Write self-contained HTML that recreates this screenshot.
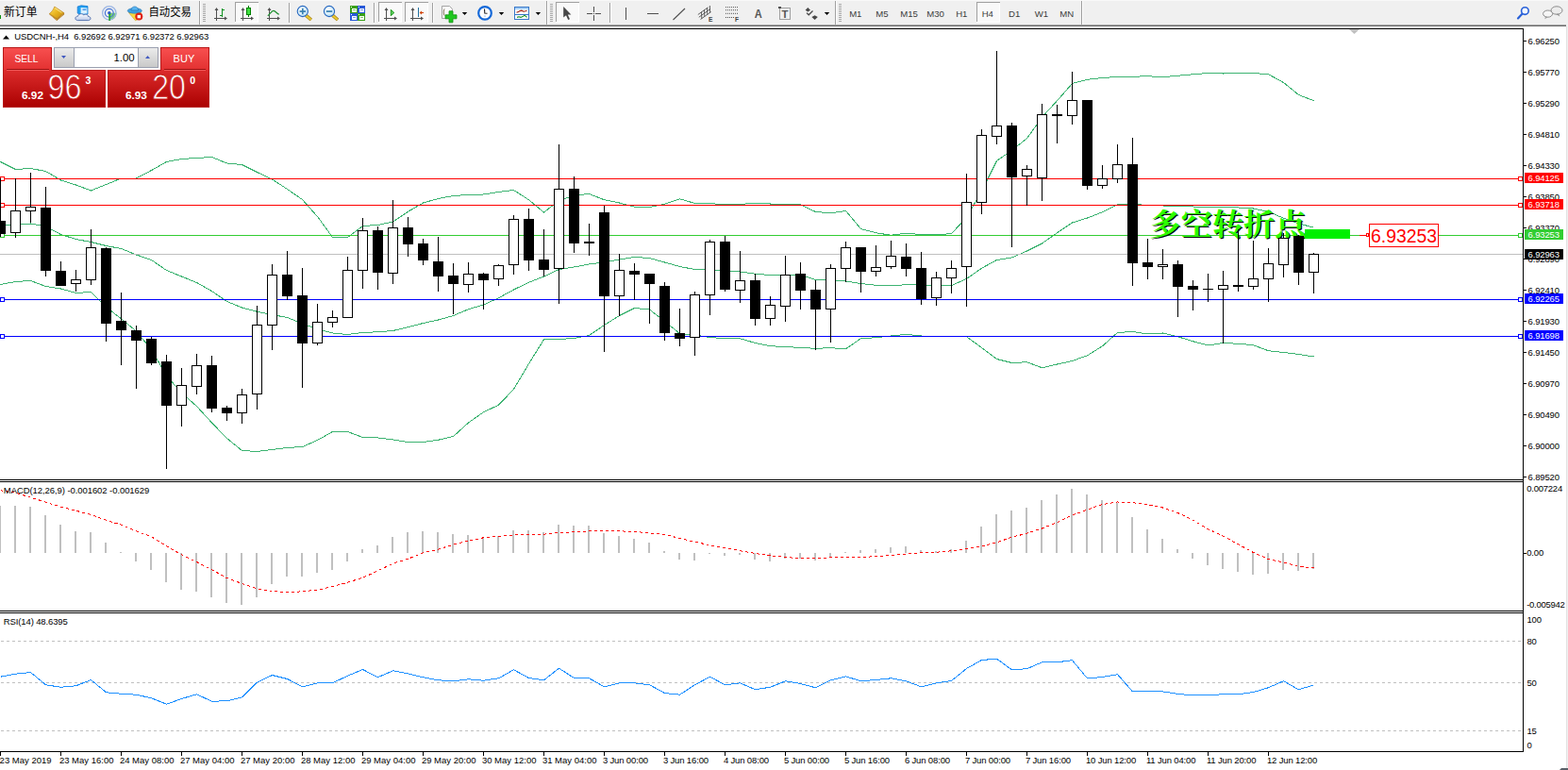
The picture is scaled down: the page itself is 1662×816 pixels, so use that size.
<!DOCTYPE html>
<html><head><meta charset="utf-8"><title>chart</title>
<style>html,body{margin:0;padding:0;background:#fff;}body{width:1662px;height:816px;overflow:hidden;position:relative;font-family:'Liberation Sans', sans-serif;}</style>
</head><body>
<svg width="1662" height="816" viewBox="0 0 1662 816" font-family="'Liberation Sans', sans-serif" style="position:absolute;left:0;top:0;display:block">
<rect x="0" y="0" width="1662" height="816" fill="#fff" />
<g shape-rendering="crispEdges">
<rect x="1661" y="28" width="1" height="788" fill="#f0f0f0" />
<rect x="1660" y="28" width="1" height="788" fill="#e3e3e3" />
</g>
<polyline points="0.5,171.5 16.5,179.5 32.5,178.5 48.5,181.5 64.5,191 80.5,196 96.5,202 112.5,195.5 128.5,189 144.5,189 160.5,180.5 176.5,171.5 192.5,168.5 208.5,167.5 224.5,166.5 240.5,173 256.5,174.5 272.5,182.5 288.5,190 304.5,200.5 320.5,211.5 336.5,229.5 352.5,251.5 368.5,251.5 384.5,239.5 400.5,238.5 416.5,235 432.5,224.25 448.5,215 464.5,210.5 480.5,207.5 496.5,206.5 512.5,206 528.5,203.5 544.5,201.5 560.5,211.75 576.5,225 592.5,212.5 608.5,207 624.5,205.5 640.5,211.75 656.5,215 672.5,219.25 688.5,219.5 704.5,216.25 720.5,210.75 736.5,215.5 752.5,215.75 768.5,216.5 784.5,216.25 800.5,215.5 816.5,216 832.5,216 848.5,216.75 864.5,224.5 880.5,225.75 896.5,223.5 912.5,242.5 928.5,246.75 944.5,249.25 960.5,247.25 976.5,248.5 992.5,249 1008.5,247.5 1024.5,230.5 1040.5,202.5 1056.5,170.5 1072.5,159.25 1088.5,146.75 1104.5,124.25 1120.5,106.75 1136.5,88.5 1152.5,84.25 1168.5,82.5 1184.5,81.5 1200.5,81.25 1216.5,80.75 1232.5,81.75 1248.5,80.25 1264.5,78.75 1280.5,77.5 1296.5,78 1312.5,77.5 1328.5,77.5 1344.5,78.75 1360.5,87.5 1376.5,100.5 1392.5,106.75" fill="none" stroke="#3cb371" stroke-width="1" shape-rendering="crispEdges" />
<polyline points="0.5,238 16.5,238.5 32.5,237 48.5,240 64.5,248.5 80.5,253.5 96.5,256.5 112.5,260.5 128.5,263.5 144.5,270 160.5,275.5 176.5,286.5 192.5,293 208.5,299.5 224.5,308.5 240.5,319.5 256.5,326 272.5,330.25 288.5,333.5 304.5,336.5 320.5,343 336.5,348.5 352.5,353 368.5,354.5 384.5,352.5 400.5,351.75 416.5,350.5 432.5,346.75 448.5,342.5 464.5,339 480.5,334.5 496.5,327.75 512.5,323 528.5,315.75 544.5,307 560.5,299.25 576.5,293 592.5,285.5 608.5,283 624.5,280 640.5,278 656.5,275 672.5,272.5 688.5,273.5 704.5,278 720.5,282.5 736.5,285.5 752.5,286.25 768.5,287 784.5,288 800.5,290.25 816.5,291.5 832.5,291 848.5,291 864.5,296.5 880.5,297 896.5,298 912.5,300.5 928.5,302.25 944.5,302.75 960.5,301.75 976.5,301.75 992.5,302.5 1008.5,302.5 1024.5,295.5 1040.5,284.25 1056.5,275.5 1072.5,273 1088.5,266 1104.5,258 1120.5,246.75 1136.5,236 1152.5,231 1168.5,224.75 1184.5,216.75 1200.5,216.25 1216.5,217.5 1232.5,218 1248.5,218.5 1264.5,219 1280.5,219.75 1296.5,219.75 1312.5,220 1328.5,221 1344.5,224.25 1360.5,231.25 1376.5,236.75 1392.5,241.25" fill="none" stroke="#3cb371" stroke-width="1" shape-rendering="crispEdges" />
<polyline points="0.5,301.5 16.5,298.5 32.5,297.5 48.5,303.5 64.5,306 80.5,310.5 96.5,309.5 112.5,325.5 128.5,337.75 144.5,351 160.5,370.5 176.5,398 192.5,416.5 208.5,430.5 224.5,448 240.5,464.5 256.5,477.5 272.5,478.5 288.5,476.5 304.5,474.5 320.5,473.5 336.5,466.5 352.5,457.5 368.5,457.5 384.5,463.5 400.5,464 416.5,466 432.5,468.5 448.5,468.5 464.5,466.25 480.5,462.5 496.5,448 512.5,436.75 528.5,429.25 544.5,412.5 560.5,385.5 576.5,359.75 592.5,359.5 608.5,358.5 624.5,355.5 640.5,344.5 656.5,334.5 672.5,326.5 688.5,328 704.5,340.5 720.5,353.5 736.5,355 752.5,357.5 768.5,358.75 784.5,358.75 800.5,363.5 816.5,366.75 832.5,367.5 848.5,368.5 864.5,369.25 880.5,368.75 896.5,369.75 912.5,358.75 928.5,357.75 944.5,356 960.5,354.25 976.5,356 992.5,356.75 1008.5,356.75 1024.5,356.75 1040.5,368.5 1056.5,380.5 1072.5,384.5 1088.5,383.75 1104.5,389.75 1120.5,386 1136.5,382.5 1152.5,376.75 1168.5,366.75 1184.5,352.5 1200.5,351.5 1216.5,354 1232.5,353 1248.5,356.75 1264.5,361.75 1280.5,366 1296.5,363.5 1312.5,364.25 1328.5,365.75 1344.5,371.75 1360.5,373.5 1376.5,375.5 1392.5,378" fill="none" stroke="#3cb371" stroke-width="1" shape-rendering="crispEdges" />
<g shape-rendering="crispEdges">
<rect x="0" y="269" width="1614" height="1" fill="#c0c0c0" />
<rect x="0" y="189" width="1614" height="1" fill="#ff0000" />
<rect x="0" y="217" width="1614" height="1" fill="#ff0000" />
<rect x="0" y="249" width="1614" height="1" fill="#32cd32" />
<rect x="0" y="317" width="1614" height="1" fill="#0000ff" />
<rect x="0" y="356" width="1614" height="1" fill="#0000ff" />
</g>
<g transform="translate(1217.6,0) scale(1.036,1) translate(-1219,0)">
<text x="1220" y="249" font-size="32" font-family="'Liberation Serif', 'Noto Serif CJK SC', serif" font-weight="bold" fill="#0a0a0a" text-anchor="start" textLength="160" lengthAdjust="spacingAndGlyphs" transform="translate(1.2,1.2)">多空转折点</text>
<text x="1220" y="249" font-size="32" font-family="'Liberation Serif', 'Noto Serif CJK SC', serif" font-weight="bold" fill="#2cff00" text-anchor="start" textLength="160" lengthAdjust="spacingAndGlyphs">多空转折点</text>
</g>
<g shape-rendering="crispEdges">
<rect x="1383" y="243" width="48" height="10" fill="#00f000" />
<rect x="1441" y="249" width="10" height="1" fill="#ff0000" />
<rect x="1448" y="247" width="3" height="4" fill="#ff0000" />
<rect x="1449" y="248" width="1" height="2" fill="#fff" />
<rect x="1451" y="237" width="74" height="25" fill="#ff0000" />
<rect x="1452" y="238" width="72" height="23" fill="#fff" />
</g>
<text x="1453" y="257" font-size="20.5" fill="#ff0000" font-weight="normal" text-anchor="start"  textLength="70" lengthAdjust="spacingAndGlyphs">6.93253</text>
<g shape-rendering="crispEdges">
<rect x="0" y="187" width="5" height="5" fill="#ff0000" />
<rect x="1" y="188" width="3" height="3" fill="#fff" />
<rect x="0" y="215" width="5" height="5" fill="#ff0000" />
<rect x="1" y="216" width="3" height="3" fill="#fff" />
<rect x="0" y="247" width="5" height="5" fill="#32cd32" />
<rect x="1" y="248" width="3" height="3" fill="#fff" />
<rect x="0" y="315" width="5" height="5" fill="#0000ff" />
<rect x="1" y="316" width="3" height="3" fill="#fff" />
<rect x="0" y="354" width="5" height="5" fill="#0000ff" />
<rect x="1" y="355" width="3" height="3" fill="#fff" />
<rect x="0" y="189" width="1" height="62" fill="#000" />
<rect x="-5" y="234" width="11" height="14" fill="#000" />
<rect x="16" y="189" width="1" height="63" fill="#000" />
<rect x="11" y="223" width="11" height="24" fill="#000" />
<rect x="12" y="224" width="9" height="22" fill="#fff" />
<rect x="32" y="183" width="1" height="53" fill="#000" />
<rect x="27" y="219" width="11" height="5" fill="#000" />
<rect x="28" y="220" width="9" height="3" fill="#fff" />
<rect x="48" y="198" width="1" height="95" fill="#000" />
<rect x="43" y="220" width="11" height="67" fill="#000" />
<rect x="64" y="277" width="1" height="26" fill="#000" />
<rect x="59" y="287" width="11" height="16" fill="#000" />
<rect x="80" y="286" width="1" height="23" fill="#000" />
<rect x="75" y="296" width="11" height="5" fill="#000" />
<rect x="76" y="297" width="9" height="3" fill="#fff" />
<rect x="96" y="243" width="1" height="59" fill="#000" />
<rect x="91" y="262" width="11" height="35" fill="#000" />
<rect x="92" y="263" width="9" height="33" fill="#fff" />
<rect x="112" y="262" width="1" height="100" fill="#000" />
<rect x="107" y="263" width="11" height="80" fill="#000" />
<rect x="128" y="310" width="1" height="77" fill="#000" />
<rect x="123" y="340" width="11" height="10" fill="#000" />
<rect x="144" y="345" width="1" height="67" fill="#000" />
<rect x="139" y="350" width="11" height="11" fill="#000" />
<rect x="160" y="357" width="1" height="30" fill="#000" />
<rect x="155" y="359" width="11" height="26" fill="#000" />
<rect x="176" y="376" width="1" height="121" fill="#000" />
<rect x="171" y="383" width="11" height="47" fill="#000" />
<rect x="192" y="390" width="1" height="62" fill="#000" />
<rect x="187" y="408" width="11" height="22" fill="#000" />
<rect x="188" y="409" width="9" height="20" fill="#fff" />
<rect x="208" y="375" width="1" height="43" fill="#000" />
<rect x="203" y="387" width="11" height="23" fill="#000" />
<rect x="204" y="388" width="9" height="21" fill="#fff" />
<rect x="224" y="377" width="1" height="60" fill="#000" />
<rect x="219" y="387" width="11" height="46" fill="#000" />
<rect x="240" y="430" width="1" height="16" fill="#000" />
<rect x="235" y="432" width="11" height="6" fill="#000" />
<rect x="256" y="412" width="1" height="37" fill="#000" />
<rect x="251" y="418" width="11" height="20" fill="#000" />
<rect x="252" y="419" width="9" height="18" fill="#fff" />
<rect x="272" y="324" width="1" height="110" fill="#000" />
<rect x="267" y="344" width="11" height="74" fill="#000" />
<rect x="268" y="345" width="9" height="72" fill="#fff" />
<rect x="288" y="280" width="1" height="91" fill="#000" />
<rect x="283" y="291" width="11" height="54" fill="#000" />
<rect x="284" y="292" width="9" height="52" fill="#fff" />
<rect x="304" y="266" width="1" height="52" fill="#000" />
<rect x="299" y="291" width="11" height="23" fill="#000" />
<rect x="320" y="284" width="1" height="127" fill="#000" />
<rect x="315" y="313" width="11" height="51" fill="#000" />
<rect x="336" y="322" width="1" height="44" fill="#000" />
<rect x="331" y="341" width="11" height="23" fill="#000" />
<rect x="332" y="342" width="9" height="21" fill="#fff" />
<rect x="352" y="329" width="1" height="18" fill="#000" />
<rect x="347" y="336" width="11" height="6" fill="#000" />
<rect x="348" y="337" width="9" height="4" fill="#fff" />
<rect x="368" y="272" width="1" height="65" fill="#000" />
<rect x="363" y="286" width="11" height="51" fill="#000" />
<rect x="364" y="287" width="9" height="49" fill="#fff" />
<rect x="384" y="231" width="1" height="75" fill="#000" />
<rect x="379" y="244" width="11" height="43" fill="#000" />
<rect x="380" y="245" width="9" height="41" fill="#fff" />
<rect x="400" y="240" width="1" height="67" fill="#000" />
<rect x="395" y="244" width="11" height="45" fill="#000" />
<rect x="416" y="212" width="1" height="89" fill="#000" />
<rect x="411" y="241" width="11" height="49" fill="#000" />
<rect x="412" y="242" width="9" height="47" fill="#fff" />
<rect x="432" y="230" width="1" height="42" fill="#000" />
<rect x="427" y="241" width="11" height="18" fill="#000" />
<rect x="448" y="253" width="1" height="28" fill="#000" />
<rect x="443" y="258" width="11" height="18" fill="#000" />
<rect x="464" y="251" width="1" height="58" fill="#000" />
<rect x="459" y="277" width="11" height="16" fill="#000" />
<rect x="480" y="279" width="1" height="54" fill="#000" />
<rect x="475" y="292" width="11" height="9" fill="#000" />
<rect x="496" y="278" width="1" height="32" fill="#000" />
<rect x="491" y="290" width="11" height="12" fill="#000" />
<rect x="492" y="291" width="9" height="10" fill="#fff" />
<rect x="512" y="289" width="1" height="39" fill="#000" />
<rect x="507" y="290" width="11" height="7" fill="#000" />
<rect x="528" y="280" width="1" height="23" fill="#000" />
<rect x="523" y="281" width="11" height="15" fill="#000" />
<rect x="524" y="282" width="9" height="13" fill="#fff" />
<rect x="544" y="228" width="1" height="63" fill="#000" />
<rect x="539" y="232" width="11" height="49" fill="#000" />
<rect x="540" y="233" width="9" height="47" fill="#fff" />
<rect x="560" y="221" width="1" height="66" fill="#000" />
<rect x="555" y="232" width="11" height="44" fill="#000" />
<rect x="576" y="243" width="1" height="50" fill="#000" />
<rect x="571" y="275" width="11" height="11" fill="#000" />
<rect x="592" y="153" width="1" height="169" fill="#000" />
<rect x="587" y="200" width="11" height="85" fill="#000" />
<rect x="588" y="201" width="9" height="83" fill="#fff" />
<rect x="608" y="187" width="1" height="81" fill="#000" />
<rect x="603" y="200" width="11" height="58" fill="#000" />
<rect x="624" y="237" width="1" height="34" fill="#000" />
<rect x="619" y="256" width="11" height="2" fill="#000" />
<rect x="640" y="218" width="1" height="155" fill="#000" />
<rect x="635" y="225" width="11" height="89" fill="#000" />
<rect x="656" y="269" width="1" height="66" fill="#000" />
<rect x="651" y="286" width="11" height="28" fill="#000" />
<rect x="652" y="287" width="9" height="26" fill="#fff" />
<rect x="672" y="279" width="1" height="39" fill="#000" />
<rect x="667" y="287" width="11" height="4" fill="#000" />
<rect x="688" y="290" width="1" height="53" fill="#000" />
<rect x="683" y="290" width="11" height="11" fill="#000" />
<rect x="704" y="299" width="1" height="62" fill="#000" />
<rect x="699" y="303" width="11" height="50" fill="#000" />
<rect x="720" y="327" width="1" height="40" fill="#000" />
<rect x="715" y="353" width="11" height="6" fill="#000" />
<rect x="736" y="309" width="1" height="68" fill="#000" />
<rect x="731" y="312" width="11" height="46" fill="#000" />
<rect x="732" y="313" width="9" height="44" fill="#fff" />
<rect x="752" y="254" width="1" height="80" fill="#000" />
<rect x="747" y="256" width="11" height="57" fill="#000" />
<rect x="748" y="257" width="9" height="55" fill="#fff" />
<rect x="768" y="250" width="1" height="59" fill="#000" />
<rect x="763" y="256" width="11" height="51" fill="#000" />
<rect x="784" y="266" width="1" height="55" fill="#000" />
<rect x="779" y="297" width="11" height="11" fill="#000" />
<rect x="780" y="298" width="9" height="9" fill="#fff" />
<rect x="800" y="290" width="1" height="55" fill="#000" />
<rect x="795" y="297" width="11" height="41" fill="#000" />
<rect x="816" y="314" width="1" height="31" fill="#000" />
<rect x="811" y="323" width="11" height="15" fill="#000" />
<rect x="812" y="324" width="9" height="13" fill="#fff" />
<rect x="832" y="271" width="1" height="70" fill="#000" />
<rect x="827" y="291" width="11" height="34" fill="#000" />
<rect x="828" y="292" width="9" height="32" fill="#fff" />
<rect x="848" y="278" width="1" height="50" fill="#000" />
<rect x="843" y="290" width="11" height="18" fill="#000" />
<rect x="864" y="297" width="1" height="74" fill="#000" />
<rect x="859" y="307" width="11" height="21" fill="#000" />
<rect x="880" y="280" width="1" height="83" fill="#000" />
<rect x="875" y="284" width="11" height="44" fill="#000" />
<rect x="876" y="285" width="9" height="42" fill="#fff" />
<rect x="896" y="256" width="1" height="43" fill="#000" />
<rect x="891" y="262" width="11" height="23" fill="#000" />
<rect x="892" y="263" width="9" height="21" fill="#fff" />
<rect x="912" y="262" width="1" height="48" fill="#000" />
<rect x="907" y="262" width="11" height="26" fill="#000" />
<rect x="928" y="260" width="1" height="33" fill="#000" />
<rect x="923" y="283" width="11" height="5" fill="#000" />
<rect x="924" y="284" width="9" height="3" fill="#fff" />
<rect x="944" y="255" width="1" height="30" fill="#000" />
<rect x="939" y="271" width="11" height="12" fill="#000" />
<rect x="940" y="272" width="9" height="10" fill="#fff" />
<rect x="960" y="258" width="1" height="35" fill="#000" />
<rect x="955" y="272" width="11" height="13" fill="#000" />
<rect x="976" y="267" width="1" height="56" fill="#000" />
<rect x="971" y="284" width="11" height="33" fill="#000" />
<rect x="992" y="288" width="1" height="36" fill="#000" />
<rect x="987" y="294" width="11" height="22" fill="#000" />
<rect x="988" y="295" width="9" height="20" fill="#fff" />
<rect x="1008" y="276" width="1" height="35" fill="#000" />
<rect x="1003" y="284" width="11" height="11" fill="#000" />
<rect x="1004" y="285" width="9" height="9" fill="#fff" />
<rect x="1024" y="184" width="1" height="141" fill="#000" />
<rect x="1019" y="214" width="11" height="69" fill="#000" />
<rect x="1020" y="215" width="9" height="67" fill="#fff" />
<rect x="1040" y="137" width="1" height="90" fill="#000" />
<rect x="1035" y="143" width="11" height="72" fill="#000" />
<rect x="1036" y="144" width="9" height="70" fill="#fff" />
<rect x="1056" y="54" width="1" height="99" fill="#000" />
<rect x="1051" y="133" width="11" height="12" fill="#000" />
<rect x="1052" y="134" width="9" height="10" fill="#fff" />
<rect x="1072" y="130" width="1" height="132" fill="#000" />
<rect x="1067" y="133" width="11" height="55" fill="#000" />
<rect x="1088" y="175" width="1" height="43" fill="#000" />
<rect x="1083" y="179" width="11" height="8" fill="#000" />
<rect x="1084" y="180" width="9" height="6" fill="#fff" />
<rect x="1104" y="110" width="1" height="103" fill="#000" />
<rect x="1099" y="121" width="11" height="68" fill="#000" />
<rect x="1100" y="122" width="9" height="66" fill="#fff" />
<rect x="1120" y="111" width="1" height="41" fill="#000" />
<rect x="1115" y="121" width="11" height="2" fill="#000" />
<rect x="1136" y="76" width="1" height="56" fill="#000" />
<rect x="1131" y="106" width="11" height="17" fill="#000" />
<rect x="1132" y="107" width="9" height="15" fill="#fff" />
<rect x="1152" y="106" width="1" height="95" fill="#000" />
<rect x="1147" y="106" width="11" height="91" fill="#000" />
<rect x="1168" y="175" width="1" height="25" fill="#000" />
<rect x="1163" y="189" width="11" height="8" fill="#000" />
<rect x="1164" y="190" width="9" height="6" fill="#fff" />
<rect x="1184" y="153" width="1" height="41" fill="#000" />
<rect x="1179" y="174" width="11" height="16" fill="#000" />
<rect x="1180" y="175" width="9" height="14" fill="#fff" />
<rect x="1200" y="146" width="1" height="157" fill="#000" />
<rect x="1195" y="174" width="11" height="105" fill="#000" />
<rect x="1216" y="253" width="1" height="43" fill="#000" />
<rect x="1211" y="278" width="11" height="5" fill="#000" />
<rect x="1232" y="264" width="1" height="32" fill="#000" />
<rect x="1227" y="280" width="11" height="3" fill="#000" />
<rect x="1228" y="281" width="9" height="1" fill="#fff" />
<rect x="1248" y="276" width="1" height="60" fill="#000" />
<rect x="1243" y="280" width="11" height="24" fill="#000" />
<rect x="1264" y="297" width="1" height="32" fill="#000" />
<rect x="1259" y="303" width="11" height="4" fill="#000" />
<rect x="1280" y="290" width="1" height="30" fill="#000" />
<rect x="1275" y="306" width="11" height="1" fill="#000" />
<rect x="1296" y="287" width="1" height="77" fill="#000" />
<rect x="1291" y="302" width="11" height="5" fill="#000" />
<rect x="1292" y="303" width="9" height="3" fill="#fff" />
<rect x="1312" y="243" width="1" height="66" fill="#000" />
<rect x="1307" y="302" width="11" height="2" fill="#000" />
<rect x="1328" y="255" width="1" height="52" fill="#000" />
<rect x="1323" y="295" width="11" height="9" fill="#000" />
<rect x="1324" y="296" width="9" height="7" fill="#fff" />
<rect x="1344" y="263" width="1" height="57" fill="#000" />
<rect x="1339" y="279" width="11" height="17" fill="#000" />
<rect x="1340" y="280" width="9" height="15" fill="#fff" />
<rect x="1360" y="247" width="1" height="47" fill="#000" />
<rect x="1355" y="252" width="11" height="29" fill="#000" />
<rect x="1356" y="253" width="9" height="27" fill="#fff" />
<rect x="1376" y="249" width="1" height="53" fill="#000" />
<rect x="1371" y="250" width="11" height="39" fill="#000" />
<rect x="1392" y="268" width="1" height="43" fill="#000" />
<rect x="1387" y="269" width="11" height="20" fill="#000" />
<rect x="1388" y="270" width="9" height="18" fill="#fff" />
<rect x="1609" y="187" width="5" height="5" fill="#ff0000" />
<rect x="1610" y="188" width="3" height="3" fill="#fff" />
<rect x="1609" y="215" width="5" height="5" fill="#ff0000" />
<rect x="1610" y="216" width="3" height="3" fill="#fff" />
<rect x="1609" y="247" width="5" height="5" fill="#32cd32" />
<rect x="1610" y="248" width="3" height="3" fill="#fff" />
<rect x="1609" y="315" width="5" height="5" fill="#0000ff" />
<rect x="1610" y="316" width="3" height="3" fill="#fff" />
<rect x="1609" y="354" width="5" height="5" fill="#0000ff" />
<rect x="1610" y="355" width="3" height="3" fill="#fff" />
</g>
<path d="M1430,31 L1441,31 L1435.5,36 Z" fill="#c0c0c0"/>
<g shape-rendering="crispEdges">
<rect x="0" y="30" width="1615" height="1" fill="#000" />
<rect x="1614" y="30" width="1" height="767" fill="#000" />
<rect x="0" y="508" width="1615" height="1" fill="#000" />
<rect x="0" y="510" width="1615" height="1" fill="#000" />
<rect x="0" y="647" width="1615" height="1" fill="#000" />
<rect x="0" y="649" width="1615" height="1" fill="#000" />
<rect x="0" y="796" width="1615" height="1" fill="#000" />
</g>
<g shape-rendering="crispEdges">
<rect x="1615" y="43" width="3" height="1" fill="#000" />
<rect x="1615" y="76" width="3" height="1" fill="#000" />
<rect x="1615" y="109" width="3" height="1" fill="#000" />
<rect x="1615" y="142" width="3" height="1" fill="#000" />
<rect x="1615" y="175" width="3" height="1" fill="#000" />
<rect x="1615" y="208" width="3" height="1" fill="#000" />
<rect x="1615" y="241" width="3" height="1" fill="#000" />
<rect x="1615" y="274" width="3" height="1" fill="#000" />
<rect x="1615" y="307" width="3" height="1" fill="#000" />
<rect x="1615" y="340" width="3" height="1" fill="#000" />
<rect x="1615" y="373" width="3" height="1" fill="#000" />
<rect x="1615" y="406" width="3" height="1" fill="#000" />
<rect x="1615" y="439" width="3" height="1" fill="#000" />
<rect x="1615" y="472" width="3" height="1" fill="#000" />
<rect x="1615" y="505" width="3" height="1" fill="#000" />
</g>
<text x="1619.6" y="46.8" font-size="9.5" fill="#000" font-weight="normal" text-anchor="start" letter-spacing="-0.15" >6.96250</text>
<text x="1619.6" y="79.8" font-size="9.5" fill="#000" font-weight="normal" text-anchor="start" letter-spacing="-0.15" >6.95770</text>
<text x="1619.6" y="112.8" font-size="9.5" fill="#000" font-weight="normal" text-anchor="start" letter-spacing="-0.15" >6.95290</text>
<text x="1619.6" y="145.8" font-size="9.5" fill="#000" font-weight="normal" text-anchor="start" letter-spacing="-0.15" >6.94810</text>
<text x="1619.6" y="178.8" font-size="9.5" fill="#000" font-weight="normal" text-anchor="start" letter-spacing="-0.15" >6.94330</text>
<text x="1619.6" y="211.8" font-size="9.5" fill="#000" font-weight="normal" text-anchor="start" letter-spacing="-0.15" >6.93850</text>
<text x="1619.6" y="244.8" font-size="9.5" fill="#000" font-weight="normal" text-anchor="start" letter-spacing="-0.15" >6.93370</text>
<text x="1619.6" y="277.8" font-size="9.5" fill="#000" font-weight="normal" text-anchor="start" letter-spacing="-0.15" >6.92890</text>
<text x="1619.6" y="310.8" font-size="9.5" fill="#000" font-weight="normal" text-anchor="start" letter-spacing="-0.15" >6.92410</text>
<text x="1619.6" y="343.8" font-size="9.5" fill="#000" font-weight="normal" text-anchor="start" letter-spacing="-0.15" >6.91930</text>
<text x="1619.6" y="376.8" font-size="9.5" fill="#000" font-weight="normal" text-anchor="start" letter-spacing="-0.15" >6.91450</text>
<text x="1619.6" y="409.8" font-size="9.5" fill="#000" font-weight="normal" text-anchor="start" letter-spacing="-0.15" >6.90970</text>
<text x="1619.6" y="442.8" font-size="9.5" fill="#000" font-weight="normal" text-anchor="start" letter-spacing="-0.15" >6.90490</text>
<text x="1619.6" y="475.8" font-size="9.5" fill="#000" font-weight="normal" text-anchor="start" letter-spacing="-0.15" >6.90000</text>
<text x="1619.6" y="508.8" font-size="9.5" fill="#000" font-weight="normal" text-anchor="start" letter-spacing="-0.15" >6.89520</text>
<g shape-rendering="crispEdges">
<rect x="1616" y="183" width="41" height="11" fill="#ff0000" />
<rect x="1616" y="211" width="41" height="11" fill="#ff0000" />
<rect x="1616" y="243" width="41" height="11" fill="#32cd32" />
<rect x="1616" y="311" width="41" height="11" fill="#0000ff" />
<rect x="1616" y="350" width="41" height="11" fill="#0000ff" />
<rect x="1616" y="264" width="41" height="11" fill="#000" />
</g>
<text x="1619.6" y="192" font-size="9.5" fill="#fff" font-weight="normal" text-anchor="start" letter-spacing="-0.15" >6.94125</text>
<text x="1619.6" y="220" font-size="9.5" fill="#fff" font-weight="normal" text-anchor="start" letter-spacing="-0.15" >6.93718</text>
<text x="1619.6" y="252" font-size="9.5" fill="#fff" font-weight="normal" text-anchor="start" letter-spacing="-0.15" >6.93253</text>
<text x="1619.6" y="320" font-size="9.5" fill="#fff" font-weight="normal" text-anchor="start" letter-spacing="-0.15" >6.92265</text>
<text x="1619.6" y="359" font-size="9.5" fill="#fff" font-weight="normal" text-anchor="start" letter-spacing="-0.15" >6.91698</text>
<text x="1619.6" y="273" font-size="9.5" fill="#fff" font-weight="normal" text-anchor="start" letter-spacing="-0.15" >6.92963</text>
<path d="M3,41.5 L10,41.5 L6.5,37.5 Z" fill="#000"/>
<text x="15.2" y="41.7" font-size="9.5" fill="#000" font-weight="normal" text-anchor="start"  textLength="206" lengthAdjust="spacing">USDCNH-,H4&#160;&#160;6.92692 6.92971 6.92372 6.92963</text>
<g shape-rendering="crispEdges">
<rect x="-1" y="536" width="2" height="50" fill="#c0c0c0" />
<rect x="15" y="536" width="2" height="50" fill="#c0c0c0" />
<rect x="31" y="537" width="2" height="49" fill="#c0c0c0" />
<rect x="47" y="546" width="2" height="40" fill="#c0c0c0" />
<rect x="63" y="556" width="2" height="30" fill="#c0c0c0" />
<rect x="79" y="563" width="2" height="23" fill="#c0c0c0" />
<rect x="95" y="564" width="2" height="22" fill="#c0c0c0" />
<rect x="111" y="575" width="2" height="11" fill="#c0c0c0" />
<rect x="127" y="585" width="2" height="1" fill="#c0c0c0" />
<rect x="143" y="586" width="2" height="9" fill="#c0c0c0" />
<rect x="159" y="586" width="2" height="18" fill="#c0c0c0" />
<rect x="175" y="586" width="2" height="31" fill="#c0c0c0" />
<rect x="191" y="586" width="2" height="39" fill="#c0c0c0" />
<rect x="207" y="586" width="2" height="41" fill="#c0c0c0" />
<rect x="223" y="586" width="2" height="47" fill="#c0c0c0" />
<rect x="239" y="586" width="2" height="53" fill="#c0c0c0" />
<rect x="255" y="586" width="2" height="55" fill="#c0c0c0" />
<rect x="271" y="586" width="2" height="47" fill="#c0c0c0" />
<rect x="287" y="586" width="2" height="33" fill="#c0c0c0" />
<rect x="303" y="586" width="2" height="25" fill="#c0c0c0" />
<rect x="319" y="586" width="2" height="25" fill="#c0c0c0" />
<rect x="335" y="586" width="2" height="21" fill="#c0c0c0" />
<rect x="351" y="586" width="2" height="18" fill="#c0c0c0" />
<rect x="367" y="586" width="2" height="9" fill="#c0c0c0" />
<rect x="383" y="582" width="2" height="4" fill="#c0c0c0" />
<rect x="399" y="578" width="2" height="8" fill="#c0c0c0" />
<rect x="415" y="569" width="2" height="17" fill="#c0c0c0" />
<rect x="431" y="564" width="2" height="22" fill="#c0c0c0" />
<rect x="447" y="563" width="2" height="23" fill="#c0c0c0" />
<rect x="463" y="564" width="2" height="22" fill="#c0c0c0" />
<rect x="479" y="566" width="2" height="20" fill="#c0c0c0" />
<rect x="495" y="567" width="2" height="19" fill="#c0c0c0" />
<rect x="511" y="569" width="2" height="17" fill="#c0c0c0" />
<rect x="527" y="568" width="2" height="18" fill="#c0c0c0" />
<rect x="543" y="562" width="2" height="24" fill="#c0c0c0" />
<rect x="559" y="562" width="2" height="24" fill="#c0c0c0" />
<rect x="575" y="564" width="2" height="22" fill="#c0c0c0" />
<rect x="591" y="556" width="2" height="30" fill="#c0c0c0" />
<rect x="607" y="557" width="2" height="29" fill="#c0c0c0" />
<rect x="623" y="557" width="2" height="29" fill="#c0c0c0" />
<rect x="639" y="565" width="2" height="21" fill="#c0c0c0" />
<rect x="655" y="568" width="2" height="18" fill="#c0c0c0" />
<rect x="671" y="571" width="2" height="15" fill="#c0c0c0" />
<rect x="687" y="575" width="2" height="11" fill="#c0c0c0" />
<rect x="703" y="584" width="2" height="2" fill="#c0c0c0" />
<rect x="719" y="586" width="2" height="7" fill="#c0c0c0" />
<rect x="735" y="586" width="2" height="8" fill="#c0c0c0" />
<rect x="751" y="586" width="2" height="1" fill="#c0c0c0" />
<rect x="767" y="586" width="2" height="3" fill="#c0c0c0" />
<rect x="783" y="586" width="2" height="2" fill="#c0c0c0" />
<rect x="799" y="586" width="2" height="7" fill="#c0c0c0" />
<rect x="815" y="586" width="2" height="9" fill="#c0c0c0" />
<rect x="831" y="586" width="2" height="6" fill="#c0c0c0" />
<rect x="847" y="586" width="2" height="6" fill="#c0c0c0" />
<rect x="863" y="586" width="2" height="8" fill="#c0c0c0" />
<rect x="879" y="586" width="2" height="4" fill="#c0c0c0" />
<rect x="895" y="585" width="2" height="1" fill="#c0c0c0" />
<rect x="911" y="583" width="2" height="3" fill="#c0c0c0" />
<rect x="927" y="582" width="2" height="4" fill="#c0c0c0" />
<rect x="943" y="580" width="2" height="6" fill="#c0c0c0" />
<rect x="959" y="579" width="2" height="7" fill="#c0c0c0" />
<rect x="975" y="583" width="2" height="3" fill="#c0c0c0" />
<rect x="991" y="584" width="2" height="2" fill="#c0c0c0" />
<rect x="1007" y="582" width="2" height="4" fill="#c0c0c0" />
<rect x="1023" y="573" width="2" height="13" fill="#c0c0c0" />
<rect x="1039" y="558" width="2" height="28" fill="#c0c0c0" />
<rect x="1055" y="545" width="2" height="41" fill="#c0c0c0" />
<rect x="1071" y="541" width="2" height="45" fill="#c0c0c0" />
<rect x="1087" y="538" width="2" height="48" fill="#c0c0c0" />
<rect x="1103" y="530" width="2" height="56" fill="#c0c0c0" />
<rect x="1119" y="524" width="2" height="62" fill="#c0c0c0" />
<rect x="1135" y="518" width="2" height="68" fill="#c0c0c0" />
<rect x="1151" y="524" width="2" height="62" fill="#c0c0c0" />
<rect x="1167" y="530" width="2" height="56" fill="#c0c0c0" />
<rect x="1183" y="533" width="2" height="53" fill="#c0c0c0" />
<rect x="1199" y="548" width="2" height="38" fill="#c0c0c0" />
<rect x="1215" y="561" width="2" height="25" fill="#c0c0c0" />
<rect x="1231" y="571" width="2" height="15" fill="#c0c0c0" />
<rect x="1247" y="582" width="2" height="4" fill="#c0c0c0" />
<rect x="1263" y="586" width="2" height="6" fill="#c0c0c0" />
<rect x="1279" y="586" width="2" height="13" fill="#c0c0c0" />
<rect x="1295" y="586" width="2" height="17" fill="#c0c0c0" />
<rect x="1311" y="586" width="2" height="20" fill="#c0c0c0" />
<rect x="1327" y="586" width="2" height="23" fill="#c0c0c0" />
<rect x="1343" y="586" width="2" height="22" fill="#c0c0c0" />
<rect x="1359" y="586" width="2" height="18" fill="#c0c0c0" />
<rect x="1375" y="586" width="2" height="19" fill="#c0c0c0" />
<rect x="1391" y="586" width="2" height="17" fill="#c0c0c0" />
</g>
<polyline points="0.5,519.8 16.5,522.2 32.5,527.2 48.5,532.2 64.5,537.2 80.5,541.2 96.5,545.5 112.5,551.2 128.5,556.2 144.5,562.8 160.5,568.8 176.5,578.8 192.5,587.8 208.5,595.5 224.5,603.8 240.5,612.5 256.5,618.5 272.5,623.8 288.5,626.5 304.5,627.8 320.5,626.8 336.5,625.2 352.5,621.5 368.5,617.2 384.5,612.2 400.5,604.8 416.5,597.2 432.5,592.2 448.5,585.8 464.5,582.2 480.5,577.2 496.5,573.2 512.5,569.8 528.5,568.2 544.5,567 560.5,566.2 576.5,566.2 592.5,564.5 608.5,563.8 624.5,562.8 640.5,562.8 656.5,562.8 672.5,563.5 688.5,564.8 704.5,566.5 720.5,570.5 736.5,574.2 752.5,577.8 768.5,580.5 784.5,583.8 800.5,586.5 816.5,588.8 832.5,590.5 848.5,591.8 864.5,591.8 880.5,590.8 896.5,590.8 912.5,590.8 928.5,589.5 944.5,588.5 960.5,587.2 976.5,585.8 992.5,585.2 1008.5,583.8 1024.5,581.5 1040.5,578.8 1056.5,574.8 1072.5,569.2 1088.5,565.3 1104.5,560 1120.5,553.7 1136.5,546 1152.5,540.1 1168.5,534.5 1184.5,532 1200.5,532.7 1216.5,534.8 1232.5,538 1248.5,543.5 1264.5,551.3 1280.5,560.7 1296.5,568.1 1312.5,576.8 1328.5,585.5 1344.5,592.5 1360.5,596.1 1376.5,600.3 1392.5,602" fill="none" stroke="#ff0000" stroke-width="1" shape-rendering="crispEdges" stroke-dasharray="3,3"/>
<text x="3.8" y="523" font-size="9.5" fill="#000" font-weight="normal" text-anchor="start"  textLength="154.5" lengthAdjust="spacing">MACD(12,26,9) -0.001602 -0.001629</text>
<text x="1618.2" y="520.8" font-size="9.5" fill="#000" font-weight="normal" text-anchor="start"  textLength="38" lengthAdjust="spacing">0.007224</text>
<text x="1618.2" y="589.4" font-size="9.5" fill="#000" font-weight="normal" text-anchor="start" letter-spacing="-0.15" >0.00</text>
<text x="1618.2" y="644" font-size="9.5" fill="#000" font-weight="normal" text-anchor="start"  textLength="40.5" lengthAdjust="spacing">-0.005942</text>
<g shape-rendering="crispEdges">
<rect x="1615" y="586" width="3" height="1" fill="#000" />
</g>
<g shape-rendering="crispEdges">
<line x1="1" y1="679.5" x2="1613" y2="679.5" stroke="#c0c0c0" stroke-width="1" stroke-dasharray="3,3"/>
<line x1="1" y1="723.5" x2="1613" y2="723.5" stroke="#c0c0c0" stroke-width="1" stroke-dasharray="3,3"/>
<line x1="1" y1="774.5" x2="1613" y2="774.5" stroke="#c0c0c0" stroke-width="1" stroke-dasharray="3,3"/>
</g>
<polyline points="0.5,717.2 16.5,714.2 32.5,712.5 48.5,725.8 64.5,728.2 80.5,726.8 96.5,720.5 112.5,733.8 128.5,735.2 144.5,736.2 160.5,739.8 176.5,746.2 192.5,740.5 208.5,735.8 224.5,743.2 240.5,742.8 256.5,738.8 272.5,723.2 288.5,715.5 304.5,719.5 320.5,727.8 336.5,723.8 352.5,723.8 368.5,716.2 384.5,709.5 400.5,717.8 416.5,710.8 432.5,713.8 448.5,717.8 464.5,720.8 480.5,721.8 496.5,719.8 512.5,721.2 528.5,718.8 544.5,709.8 560.5,718.5 576.5,720.8 592.5,708.2 608.5,718.5 624.5,718.8 640.5,727.8 656.5,723.8 672.5,723.8 688.5,725.8 704.5,734.5 720.5,736.2 736.5,725.8 752.5,717.2 768.5,725.8 784.5,723.8 800.5,730.8 816.5,728.2 832.5,721.8 848.5,724.5 864.5,728.8 880.5,720.8 896.5,716.8 912.5,721.8 928.5,720.5 944.5,718.8 960.5,721.8 976.5,727.8 992.5,723.8 1008.5,721.5 1024.5,708.5 1040.5,699.5 1056.5,698.2 1072.5,709.8 1088.5,708.7 1104.5,701.8 1120.5,701.8 1136.5,699.7 1152.5,718.9 1168.5,717.5 1184.5,714.7 1200.5,732.9 1216.5,732.9 1232.5,732.9 1248.5,735.4 1264.5,736.8 1280.5,736.8 1296.5,735.7 1312.5,735.7 1328.5,733.6 1344.5,728.7 1360.5,721.7 1376.5,730.8 1392.5,725.9" fill="none" stroke="#1e90ff" stroke-width="1" shape-rendering="crispEdges" />
<text x="3.8" y="662" font-size="9.5" fill="#000" font-weight="normal" text-anchor="start"  textLength="68" lengthAdjust="spacing">RSI(14) 48.6395</text>
<text x="1618.4" y="659.9" font-size="9.5" fill="#000" font-weight="normal" text-anchor="start" letter-spacing="-0.15" >100</text>
<text x="1618.4" y="683" font-size="9.5" fill="#000" font-weight="normal" text-anchor="start" letter-spacing="-0.15" >80</text>
<text x="1618.4" y="727.1" font-size="9.5" fill="#000" font-weight="normal" text-anchor="start" letter-spacing="-0.15" >50</text>
<text x="1618.4" y="778.2" font-size="9.5" fill="#000" font-weight="normal" text-anchor="start" letter-spacing="-0.15" >15</text>
<text x="1618.4" y="793.3" font-size="9.5" fill="#000" font-weight="normal" text-anchor="start" letter-spacing="-0.15" >0</text>
<g shape-rendering="crispEdges">
<rect x="0" y="797" width="1" height="4" fill="#000" />
<rect x="64" y="797" width="1" height="4" fill="#000" />
<rect x="128" y="797" width="1" height="4" fill="#000" />
<rect x="192" y="797" width="1" height="4" fill="#000" />
<rect x="256" y="797" width="1" height="4" fill="#000" />
<rect x="320" y="797" width="1" height="4" fill="#000" />
<rect x="384" y="797" width="1" height="4" fill="#000" />
<rect x="448" y="797" width="1" height="4" fill="#000" />
<rect x="512" y="797" width="1" height="4" fill="#000" />
<rect x="576" y="797" width="1" height="4" fill="#000" />
<rect x="640" y="797" width="1" height="4" fill="#000" />
<rect x="704" y="797" width="1" height="4" fill="#000" />
<rect x="768" y="797" width="1" height="4" fill="#000" />
<rect x="832" y="797" width="1" height="4" fill="#000" />
<rect x="896" y="797" width="1" height="4" fill="#000" />
<rect x="960" y="797" width="1" height="4" fill="#000" />
<rect x="1024" y="797" width="1" height="4" fill="#000" />
<rect x="1088" y="797" width="1" height="4" fill="#000" />
<rect x="1152" y="797" width="1" height="4" fill="#000" />
<rect x="1216" y="797" width="1" height="4" fill="#000" />
<rect x="1280" y="797" width="1" height="4" fill="#000" />
<rect x="1344" y="797" width="1" height="4" fill="#000" />
</g>
<text x="-0.4" y="809" font-size="9.5" fill="#000" font-weight="normal" text-anchor="start"  letter-spacing="0">23 May 2019</text>
<text x="62.9" y="809" font-size="9.5" fill="#000" font-weight="normal" text-anchor="start"  letter-spacing="0">23 May 16:00</text>
<text x="126.9" y="809" font-size="9.5" fill="#000" font-weight="normal" text-anchor="start"  letter-spacing="0">24 May 08:00</text>
<text x="190.9" y="809" font-size="9.5" fill="#000" font-weight="normal" text-anchor="start"  letter-spacing="0">27 May 04:00</text>
<text x="254.9" y="809" font-size="9.5" fill="#000" font-weight="normal" text-anchor="start"  letter-spacing="0">27 May 20:00</text>
<text x="318.9" y="809" font-size="9.5" fill="#000" font-weight="normal" text-anchor="start"  letter-spacing="0">28 May 12:00</text>
<text x="382.9" y="809" font-size="9.5" fill="#000" font-weight="normal" text-anchor="start"  letter-spacing="0">29 May 04:00</text>
<text x="446.9" y="809" font-size="9.5" fill="#000" font-weight="normal" text-anchor="start"  letter-spacing="0">29 May 20:00</text>
<text x="510.9" y="809" font-size="9.5" fill="#000" font-weight="normal" text-anchor="start"  letter-spacing="0">30 May 12:00</text>
<text x="574.9" y="809" font-size="9.5" fill="#000" font-weight="normal" text-anchor="start"  letter-spacing="0">31 May 04:00</text>
<text x="638.9" y="809" font-size="9.5" fill="#000" font-weight="normal" text-anchor="start" letter-spacing="-0.15" >3 Jun 00:00</text>
<text x="702.9" y="809" font-size="9.5" fill="#000" font-weight="normal" text-anchor="start" letter-spacing="-0.15" >3 Jun 16:00</text>
<text x="766.9" y="809" font-size="9.5" fill="#000" font-weight="normal" text-anchor="start" letter-spacing="-0.15" >4 Jun 08:00</text>
<text x="830.9" y="809" font-size="9.5" fill="#000" font-weight="normal" text-anchor="start" letter-spacing="-0.15" >5 Jun 00:00</text>
<text x="894.9" y="809" font-size="9.5" fill="#000" font-weight="normal" text-anchor="start" letter-spacing="-0.15" >5 Jun 16:00</text>
<text x="958.9" y="809" font-size="9.5" fill="#000" font-weight="normal" text-anchor="start" letter-spacing="-0.15" >6 Jun 08:00</text>
<text x="1022.9" y="809" font-size="9.5" fill="#000" font-weight="normal" text-anchor="start" letter-spacing="-0.15" >7 Jun 00:00</text>
<text x="1086.9" y="809" font-size="9.5" fill="#000" font-weight="normal" text-anchor="start" letter-spacing="-0.15" >7 Jun 16:00</text>
<text x="1150.9" y="809" font-size="9.5" fill="#000" font-weight="normal" text-anchor="start" letter-spacing="-0.15" >10 Jun 12:00</text>
<text x="1214.9" y="809" font-size="9.5" fill="#000" font-weight="normal" text-anchor="start" letter-spacing="-0.15" >11 Jun 04:00</text>
<text x="1278.9" y="809" font-size="9.5" fill="#000" font-weight="normal" text-anchor="start" letter-spacing="-0.15" >11 Jun 20:00</text>
<text x="1342.9" y="809" font-size="9.5" fill="#000" font-weight="normal" text-anchor="start" letter-spacing="-0.15" >12 Jun 12:00</text>
<path d="M1653,816 L1655,814 L1662,814 L1662,816 Z" fill="#5a6068"/>
<g shape-rendering="crispEdges">
<rect x="0" y="0" width="1662" height="26" fill="#f0f0f0"/>
<rect x="0" y="0" width="1662" height="1" fill="#f8f8f8"/>
<rect x="0" y="26" width="1660" height="1" fill="#a6a6a6"/>
<rect x="0" y="27" width="1660" height="1" fill="#6a6a6a"/>
<rect x="1660" y="26" width="2" height="2" fill="#f0f0f0"/>
<rect x="211" y="1" width="1" height="25" fill="#a0a0a0"/>
<rect x="212" y="1" width="1" height="25" fill="#ffffff"/>
<rect x="215" y="4" width="3" height="1" fill="#a8a8a8"/>
<rect x="215" y="6" width="3" height="1" fill="#a8a8a8"/>
<rect x="215" y="8" width="3" height="1" fill="#a8a8a8"/>
<rect x="215" y="10" width="3" height="1" fill="#a8a8a8"/>
<rect x="215" y="12" width="3" height="1" fill="#a8a8a8"/>
<rect x="215" y="14" width="3" height="1" fill="#a8a8a8"/>
<rect x="215" y="16" width="3" height="1" fill="#a8a8a8"/>
<rect x="215" y="18" width="3" height="1" fill="#a8a8a8"/>
<rect x="215" y="20" width="3" height="1" fill="#a8a8a8"/>
<rect x="215" y="22" width="3" height="1" fill="#a8a8a8"/>
<rect x="249" y="2" width="25" height="22" fill="#f9f9f9"/>
<rect x="249" y="2" width="25" height="1" fill="#a0a0a0"/>
<rect x="249" y="2" width="1" height="22" fill="#a0a0a0"/>
<rect x="273" y="3" width="1" height="21" fill="#ffffff"/>
<rect x="249" y="23" width="25" height="1" fill="#ffffff"/>
<rect x="306" y="3" width="1" height="21" fill="#a0a0a0"/>
<rect x="307" y="3" width="1" height="21" fill="#ffffff"/>
<rect x="396" y="3" width="1" height="21" fill="#a0a0a0"/>
<rect x="397" y="3" width="1" height="21" fill="#ffffff"/>
<rect x="401" y="2" width="25" height="22" fill="#f9f9f9"/>
<rect x="401" y="2" width="25" height="1" fill="#a0a0a0"/>
<rect x="401" y="2" width="1" height="22" fill="#a0a0a0"/>
<rect x="425" y="3" width="1" height="21" fill="#ffffff"/>
<rect x="401" y="23" width="25" height="1" fill="#ffffff"/>
<rect x="429" y="2" width="25" height="22" fill="#f9f9f9"/>
<rect x="429" y="2" width="25" height="1" fill="#a0a0a0"/>
<rect x="429" y="2" width="1" height="22" fill="#a0a0a0"/>
<rect x="453" y="3" width="1" height="21" fill="#ffffff"/>
<rect x="429" y="23" width="25" height="1" fill="#ffffff"/>
<rect x="458" y="3" width="1" height="21" fill="#a0a0a0"/>
<rect x="459" y="3" width="1" height="21" fill="#ffffff"/>
<rect x="579" y="1" width="1" height="25" fill="#a0a0a0"/>
<rect x="580" y="1" width="1" height="25" fill="#ffffff"/>
<rect x="583" y="4" width="3" height="1" fill="#a8a8a8"/>
<rect x="583" y="6" width="3" height="1" fill="#a8a8a8"/>
<rect x="583" y="8" width="3" height="1" fill="#a8a8a8"/>
<rect x="583" y="10" width="3" height="1" fill="#a8a8a8"/>
<rect x="583" y="12" width="3" height="1" fill="#a8a8a8"/>
<rect x="583" y="14" width="3" height="1" fill="#a8a8a8"/>
<rect x="583" y="16" width="3" height="1" fill="#a8a8a8"/>
<rect x="583" y="18" width="3" height="1" fill="#a8a8a8"/>
<rect x="583" y="20" width="3" height="1" fill="#a8a8a8"/>
<rect x="583" y="22" width="3" height="1" fill="#a8a8a8"/>
<rect x="589" y="2" width="25" height="22" fill="#f9f9f9"/>
<rect x="589" y="2" width="25" height="1" fill="#a0a0a0"/>
<rect x="589" y="2" width="1" height="22" fill="#a0a0a0"/>
<rect x="613" y="3" width="1" height="21" fill="#ffffff"/>
<rect x="589" y="23" width="25" height="1" fill="#ffffff"/>
<rect x="646" y="3" width="1" height="21" fill="#a0a0a0"/>
<rect x="647" y="3" width="1" height="21" fill="#ffffff"/>
<rect x="885" y="1" width="1" height="25" fill="#a0a0a0"/>
<rect x="886" y="1" width="1" height="25" fill="#ffffff"/>
<rect x="889" y="4" width="3" height="1" fill="#a8a8a8"/>
<rect x="889" y="6" width="3" height="1" fill="#a8a8a8"/>
<rect x="889" y="8" width="3" height="1" fill="#a8a8a8"/>
<rect x="889" y="10" width="3" height="1" fill="#a8a8a8"/>
<rect x="889" y="12" width="3" height="1" fill="#a8a8a8"/>
<rect x="889" y="14" width="3" height="1" fill="#a8a8a8"/>
<rect x="889" y="16" width="3" height="1" fill="#a8a8a8"/>
<rect x="889" y="18" width="3" height="1" fill="#a8a8a8"/>
<rect x="889" y="20" width="3" height="1" fill="#a8a8a8"/>
<rect x="889" y="22" width="3" height="1" fill="#a8a8a8"/>
<rect x="1035" y="2" width="25" height="22" fill="#f9f9f9"/>
<rect x="1035" y="2" width="25" height="1" fill="#a0a0a0"/>
<rect x="1035" y="2" width="1" height="22" fill="#a0a0a0"/>
<rect x="1059" y="3" width="1" height="21" fill="#ffffff"/>
<rect x="1035" y="23" width="25" height="1" fill="#ffffff"/>
<rect x="1146" y="1" width="1" height="25" fill="#a0a0a0"/>
<rect x="1147" y="1" width="1" height="25" fill="#ffffff"/>
<rect x="0" y="16" width="1" height="4" fill="#109010"/>
</g>
<text x="4" y="17" font-size="12" fill="#000" text-anchor="start" font-family="'Liberation Sans', 'Noto Sans CJK SC', sans-serif" textLength="35.5" lengthAdjust="spacingAndGlyphs">新订单</text>
<text x="157.5" y="17" font-size="12" fill="#000" text-anchor="start" font-family="'Liberation Sans', 'Noto Sans CJK SC', sans-serif" textLength="45.5" lengthAdjust="spacingAndGlyphs">自动交易</text>
<defs><linearGradient id="gold" x1="0" y1="0" x2="1" y2="1"><stop offset="0" stop-color="#ffe060"/><stop offset="0.5" stop-color="#e8b420"/><stop offset="1" stop-color="#c08810"/></linearGradient><linearGradient id="redA" x1="0" y1="0" x2="0" y2="1"><stop offset="0" stop-color="#f85050"/><stop offset="1" stop-color="#e23030"/></linearGradient><linearGradient id="redB" x1="0" y1="0" x2="0" y2="1"><stop offset="0" stop-color="#dc2c2c"/><stop offset="1" stop-color="#aa0000"/></linearGradient><linearGradient id="btn" x1="0" y1="0" x2="0" y2="1"><stop offset="0" stop-color="#ebebeb"/><stop offset="1" stop-color="#c9c9c9"/></linearGradient><radialGradient id="lens" cx="0.4" cy="0.35" r="0.7"><stop offset="0" stop-color="#ffffff"/><stop offset="1" stop-color="#b8e0f4"/></radialGradient><linearGradient id="cloud" x1="0" y1="0" x2="0" y2="1"><stop offset="0" stop-color="#ffffff"/><stop offset="1" stop-color="#b8c8e8"/></linearGradient></defs>
<path d="M52.1,15 L60.2,22 L68.1,15.2 L68.1,13.4 L60.2,19.6 L52.3,14.2 Z" fill="#a56a14"/>
<path d="M53,15.6 L60.2,21 L67.4,15" fill="none" stroke="#e8c060" stroke-width="0.6"/>
<path d="M57.8,7 C56.8,9.8 54.8,12.8 52.4,14.4 L60.2,19.7 L67.9,13.7 Z" fill="url(#gold)" stroke="#b8821a" stroke-width="0.6" stroke-linejoin="round"/>
<path d="M58.4,8.6 L65.4,13.4" stroke="#fff4b0" stroke-width="1" opacity="0.8"/>
<path d="M82.2,7 L86,5.8 L93,6.6 L93,15 L85,15.5 L82.2,14 Z" fill="#20a0f0" stroke="#1070d0" stroke-width="0.7"/>
<path d="M85.6,8 L92.4,8.4 L92.4,14.6 L85.6,14.8 Z" fill="#d8f0ff"/>
<rect x="87.5" y="9.6" width="4" height="1.2" fill="#3080e0"/>
<path d="M82.5,21.6 C79,21.6 79,17.2 82.6,17.2 C83,14.4 87.5,13.8 88.8,16 C90.6,14.4 93.6,15.4 93.4,17.4 C96.8,17.4 96.8,21.6 93.6,21.6 Z" fill="url(#cloud)" stroke="#4868a8" stroke-width="0.9"/>
<path d="M115.8,13.8 L115.8,21.6 A7.8,7.8 0 0 0 123.6,13.8 Z" fill="#58c058" opacity="0.8"/>
<circle cx="115.8" cy="13.8" r="7.2" fill="none" stroke="#9cb6e4" stroke-width="1.3"/>
<circle cx="115.8" cy="13.8" r="4.4" fill="none" stroke="#4c7ad8" stroke-width="1.3"/>
<circle cx="115.8" cy="13.8" r="1.7" fill="#2c58d0"/>
<rect x="115.39999999999999" y="14.600000000000001" width="1.4" height="7.4" fill="#18a018"/>
<path d="M136.5,13.5 L149.5,13.5 L147,20 L143.5,21.8 Z" fill="#f8d840" stroke="#c8a020" stroke-width="0.6"/>
<ellipse cx="142.8" cy="11.4" rx="7.6" ry="2.8" fill="#40a0e0" stroke="#2070b0" stroke-width="0.6"/>
<path d="M139,11 C139,5.6 146.6,5.6 146.6,11 Z" fill="#58b4f0" stroke="#2070b0" stroke-width="0.6"/>
<circle cx="147.3" cy="17.6" r="4" fill="#e02010"/>
<rect x="145.6" y="15.9" width="3.4" height="3.4" fill="#fff"/>
<g shape-rendering="crispEdges" fill="#505050">
<rect x="229" y="9" width="1" height="13"/>
<rect x="227" y="19" width="13" height="1"/>
<rect x="228" y="10" width="3" height="1"/>
<rect x="238" y="18" width="1" height="3"/>
</g>
<path d="M227.5,11 L229.5,8 L231.5,11 Z" fill="#505050"/>
<path d="M238,17.5 L241,19.5 L238,21.5 Z" fill="#505050"/>
<g shape-rendering="crispEdges" fill="#109020"><rect x="235" y="9" width="1" height="9"/><rect x="235" y="10" width="3" height="1"/><rect x="233" y="16" width="3" height="1"/></g>
<g shape-rendering="crispEdges" fill="#505050">
<rect x="257" y="9" width="1" height="13"/>
<rect x="255" y="19" width="13" height="1"/>
<rect x="256" y="10" width="3" height="1"/>
<rect x="266" y="18" width="1" height="3"/>
</g>
<path d="M255.5,11 L257.5,8 L259.5,11 Z" fill="#505050"/>
<path d="M266,17.5 L269,19.5 L266,21.5 Z" fill="#505050"/>
<g shape-rendering="crispEdges"><rect x="263" y="6" width="1" height="12" fill="#008000"/><rect x="261" y="8" width="5" height="8" fill="#008000"/><rect x="262" y="9" width="3" height="6" fill="#40e040"/></g>
<g shape-rendering="crispEdges" fill="#505050">
<rect x="285" y="9" width="1" height="13"/>
<rect x="283" y="19" width="13" height="1"/>
<rect x="284" y="10" width="3" height="1"/>
<rect x="294" y="18" width="1" height="3"/>
</g>
<path d="M283.5,11 L285.5,8 L287.5,11 Z" fill="#505050"/>
<path d="M294,17.5 L297,19.5 L294,21.5 Z" fill="#505050"/>
<path d="M283.8,16.8 C286,15 288,11.2 290,11.4 C292,11.6 293.5,14.5 295.8,15.2" fill="none" stroke="#209030" stroke-width="1.2"/>
<path d="M324.2,16.2 L329.8,21" stroke="#a07810" stroke-width="3.6" stroke-linecap="butt"/>
<path d="M324.40000000000003,16.4 L329.6,20.8" stroke="#e8c830" stroke-width="2.2" stroke-linecap="butt"/>
<circle cx="320.8" cy="12" r="5.6" fill="url(#lens)" stroke="#2868c0" stroke-width="1.1"/>
<rect x="317.6" y="11.2" width="6.4" height="1.7" fill="#3880b0"/>
<rect x="319.95" y="8.8" width="1.7" height="6.4" fill="#3880b0"/>
<path d="M352.4,16.2 L358,21" stroke="#a07810" stroke-width="3.6" stroke-linecap="butt"/>
<path d="M352.6,16.4 L357.8,20.8" stroke="#e8c830" stroke-width="2.2" stroke-linecap="butt"/>
<circle cx="349" cy="12" r="5.6" fill="url(#lens)" stroke="#2868c0" stroke-width="1.1"/>
<rect x="345.8" y="11.2" width="6.4" height="1.7" fill="#3880b0"/>
<g shape-rendering="crispEdges">
<rect x="371" y="6" width="8" height="8" fill="#38a018"/>
<rect x="373" y="9" width="5" height="4" fill="#fff"/>
<rect x="374" y="10" width="3" height="1" fill="#38a018" opacity="0.6"/>
<rect x="372" y="7" width="1" height="1" fill="#fff"/>
<rect x="379" y="6" width="8" height="8" fill="#2858d8"/>
<rect x="381" y="9" width="5" height="4" fill="#fff"/>
<rect x="382" y="10" width="3" height="1" fill="#2858d8" opacity="0.6"/>
<rect x="380" y="7" width="1" height="1" fill="#fff"/>
<rect x="371" y="14" width="8" height="8" fill="#2858d8"/>
<rect x="373" y="17" width="5" height="4" fill="#fff"/>
<rect x="374" y="18" width="3" height="1" fill="#2858d8" opacity="0.6"/>
<rect x="372" y="15" width="1" height="1" fill="#fff"/>
<rect x="379" y="14" width="8" height="8" fill="#38a018"/>
<rect x="381" y="17" width="5" height="4" fill="#fff"/>
<rect x="382" y="18" width="3" height="1" fill="#38a018" opacity="0.6"/>
<rect x="380" y="15" width="1" height="1" fill="#fff"/>
</g>
<g shape-rendering="crispEdges" fill="#505050">
<rect x="409" y="9" width="1" height="13"/>
<rect x="407" y="19" width="13" height="1"/>
<rect x="408" y="10" width="3" height="1"/>
<rect x="418" y="18" width="1" height="3"/>
</g>
<path d="M407.5,11 L409.5,8 L411.5,11 Z" fill="#505050"/>
<path d="M418,17.5 L421,19.5 L418,21.5 Z" fill="#505050"/>
<path d="M414.3,10.3 L417.8,13.5 L414.3,16.7 Z" fill="#60d060" stroke="#109010" stroke-width="0.9"/>
<g shape-rendering="crispEdges" fill="#505050">
<rect x="437" y="9" width="1" height="13"/>
<rect x="435" y="19" width="13" height="1"/>
<rect x="436" y="10" width="3" height="1"/>
<rect x="446" y="18" width="1" height="3"/>
</g>
<path d="M435.5,11 L437.5,8 L439.5,11 Z" fill="#505050"/>
<path d="M446,17.5 L449,19.5 L446,21.5 Z" fill="#505050"/>
<rect x="443" y="8" width="1.2" height="10" fill="#2070a0" shape-rendering="crispEdges"/>
<path d="M444.6,13.5 L447,11.6 L447,12.9 L449,12.9 L449,14.1 L447,14.1 L447,15.4 Z" fill="#d04000"/>
<path d="M468.5,6.5 L476.5,6.5 L479.3,9.3 L479.3,19.5 L468.5,19.5 Z" fill="#fbfbfb" stroke="#909090" stroke-width="0.8"/>
<path d="M471,9.5 C470,11 470,15 471,16.5" fill="none" stroke="#605030" stroke-width="0.8"/>
<path d="M476,12 L480,12 L480,16 L484,16 L484,20 L480,20 L480,24 L476,24 L476,20 L472,20 L472,16 L476,16 Z" fill="#20c820" stroke="#109010" stroke-width="0.8" transform="translate(0,-0.2)"/>
<path d="M489.8,13 L495.2,13 L492.5,16 Z" fill="#000"/>
<circle cx="514" cy="13.9" r="6.8" fill="#fdfdfd" stroke="#1468d8" stroke-width="2.2"/>
<path d="M513.5,9.5 L513.8,14 L516.5,14.3" fill="none" stroke="#202020" stroke-width="1.1"/>
<rect x="512.8" y="16.6" width="2.2" height="0.9" fill="#90b8f0"/>
<path d="M528.8,13 L534.1999999999999,13 L531.5,16 Z" fill="#000"/>
<g shape-rendering="crispEdges"><rect x="545" y="7" width="16" height="14" fill="#3878c8"/><rect x="546" y="8" width="14" height="2" fill="#a8d0f8"/><rect x="546" y="10" width="14" height="5" fill="#fff"/><rect x="546" y="16" width="14" height="4" fill="#fff"/></g>
<path d="M547.5,13.2 L549.5,12.6 L551,11.6 L553,11.2 L555,12.2 L557,11.8 L558.5,11.2" fill="none" stroke="#a02010" stroke-width="1.1"/>
<path d="M548,18.4 L550,17.8 L552,18.4 L554,17.6 L556,16.4 L557.5,17.4 L558.5,18.4" fill="none" stroke="#109020" stroke-width="1.1"/>
<path d="M567.7,13 L573.1,13 L570.4000000000001,16 Z" fill="#000"/>
<path d="M597.2,7 L597.2,18.6 L600,16.2 L602.2,21 L604,20.2 L601.8,15.6 L605.4,15.4 Z" fill="#484848"/>
<g shape-rendering="crispEdges" fill="#505050"><rect x="629" y="7" width="1" height="6"/><rect x="629" y="16" width="1" height="6"/><rect x="622" y="14" width="6" height="1"/><rect x="631" y="14" width="6" height="1"/><rect x="629" y="14" width="1" height="1"/></g>
<g shape-rendering="crispEdges" fill="#505050"><rect x="663" y="8" width="1" height="13"/><rect x="686" y="14" width="12" height="1"/></g>
<path d="M713.5,21 L726,9" stroke="#505050" stroke-width="1.1"/>
<g stroke="#505050" stroke-width="0.9" fill="none"><path d="M739.8,15.5 L750.5,7.8"/><path d="M740.8,18.2 L752.8,9.6"/><path d="M742.5,20.5 L753.6,12.6"/><path d="M743.5,12.5 L743.8,19.8"/><path d="M746.5,10.4 L746.8,17.6"/><path d="M749.5,8.2 L749.8,15.4"/><path d="M752.4,6 L752.6,13.4"/></g>
<text x="751" y="22.8" font-size="6.6" font-weight="bold" fill="#404040" font-family="'Liberation Sans', sans-serif">E</text>
<line x1="769" y1="7.7" x2="782" y2="7.7" stroke="#505050" stroke-width="1" stroke-dasharray="1,1"/>
<line x1="769" y1="10.7" x2="782" y2="10.7" stroke="#505050" stroke-width="1" stroke-dasharray="1,1"/>
<line x1="769" y1="14.3" x2="782" y2="14.3" stroke="#505050" stroke-width="1" stroke-dasharray="1,1"/>
<line x1="769" y1="18.5" x2="778" y2="18.5" stroke="#505050" stroke-width="1" stroke-dasharray="1,1"/>
<text x="779" y="22.8" font-size="6.6" font-weight="bold" fill="#404040" font-family="'Liberation Sans', sans-serif">F</text>
<text x="803.7" y="18.9" font-size="12.4" font-weight="bold" fill="#555" text-anchor="middle" font-family="'Liberation Sans', sans-serif" textLength="8" lengthAdjust="spacingAndGlyphs">A</text>
<rect x="826.5" y="8.5" width="11" height="12" fill="none" stroke="#505050" stroke-width="1" stroke-dasharray="1,1"/>
<rect x="825" y="7" width="3" height="2" fill="#505050"/>
<text x="832" y="18.9" font-size="11.4" font-weight="bold" fill="#555" text-anchor="middle" font-family="'Liberation Sans', sans-serif">T</text>
<path d="M856.3,8 L859,10.8 L856.3,12.4 L853.6,10.8 Z" fill="#484848"/>
<path d="M863.6,21 L866.8,18 L863.6,16.2 L860.4,18 Z" fill="#484848"/>
<path d="M855,13.6 L857.2,15.8 L861.5,11.5" fill="none" stroke="#484848" stroke-width="1.3"/>
<path d="M873.8,13 L879.1999999999999,13 L876.5,16 Z" fill="#000"/>
<text x="906.8" y="18.2" font-size="9.6" fill="#3c3c3c" text-anchor="middle" font-family="'Liberation Sans', sans-serif">M1</text>
<text x="934.9" y="18.2" font-size="9.6" fill="#3c3c3c" text-anchor="middle" font-family="'Liberation Sans', sans-serif">M5</text>
<text x="963.5" y="18.2" font-size="9.6" fill="#3c3c3c" text-anchor="middle" font-family="'Liberation Sans', sans-serif">M15</text>
<text x="991.5" y="18.2" font-size="9.6" fill="#3c3c3c" text-anchor="middle" font-family="'Liberation Sans', sans-serif">M30</text>
<text x="1019.3" y="18.2" font-size="9.6" fill="#3c3c3c" text-anchor="middle" font-family="'Liberation Sans', sans-serif">H1</text>
<text x="1046.8" y="18.2" font-size="9.6" fill="#3c3c3c" text-anchor="middle" font-family="'Liberation Sans', sans-serif">H4</text>
<text x="1075.2" y="18.2" font-size="9.6" fill="#3c3c3c" text-anchor="middle" font-family="'Liberation Sans', sans-serif">D1</text>
<text x="1104" y="18.2" font-size="9.6" fill="#3c3c3c" text-anchor="middle" font-family="'Liberation Sans', sans-serif">W1</text>
<text x="1130.7" y="18.2" font-size="9.6" fill="#3c3c3c" text-anchor="middle" font-family="'Liberation Sans', sans-serif">MN</text>
<path d="M1609,19.4 L1613.6,14.6" stroke="#2860d8" stroke-width="2.2" stroke-linecap="round"/>
<circle cx="1616.4" cy="11.6" r="3.8" fill="#f4f8ff" stroke="#2860d8" stroke-width="1.6"/>
<ellipse cx="1650" cy="11" rx="6" ry="4.2" fill="#ececec" stroke="#8c8c8c" stroke-width="1"/>
<path d="M1652,14.6 L1653.4,17.4 L1649.4,15 Z" fill="#909090"/>
<ellipse cx="1640.6" cy="14.6" rx="5" ry="3.6" fill="#f6f6f6" stroke="#8c8c8c" stroke-width="1"/>
<path d="M1638,17.6 L1637.4,20.2 L1641,18 Z" fill="#a0a0a0"/>
<g shape-rendering="crispEdges">
<rect x="3" y="50" width="52" height="25" fill="url(#redA)"/>
<rect x="170" y="50" width="52" height="25" fill="url(#redA)"/>
<rect x="3" y="74" width="109" height="40" fill="url(#redB)"/>
<rect x="114" y="74" width="108" height="40" fill="url(#redB)"/>
<path d="M3.5,50.5 H54.5 V74.5 H111.5 V113.5 H3.5 Z" fill="none" stroke="#b81818" stroke-width="1"/>
<path d="M221.5,50.5 H170.5 V74.5 H114.5 V113.5 H221.5 Z" fill="none" stroke="#b81818" stroke-width="1"/>
<rect x="7" y="73" width="45" height="1" fill="#9c1010"/><rect x="7" y="74" width="45" height="1" fill="#ee5858"/>
<rect x="174" y="73" width="44" height="1" fill="#9c1010"/><rect x="174" y="74" width="44" height="1" fill="#ee5858"/>
<rect x="57" y="50" width="111" height="22" fill="#fff" stroke="none"/>
<path d="M57.5,50.5 H167.5 V71.5 H57.5 Z" fill="none" stroke="#9aa0b0" stroke-width="1"/>
<rect x="58" y="51" width="20" height="20" fill="url(#btn)"/><rect x="78" y="51" width="1" height="20" fill="#9aa0b0"/>
<rect x="147" y="51" width="20" height="20" fill="url(#btn)"/><rect x="146" y="51" width="1" height="20" fill="#9aa0b0"/>
</g>
<path d="M65,59 L70,59 L67.5,62 Z" fill="#4058c0"/>
<path d="M154,62 L159,62 L156.5,59 Z" fill="#4058c0"/>
<text x="15.4" y="65.8" font-size="11.3" font-weight="normal" fill="#fff" text-anchor="start" font-family="'Liberation Sans', sans-serif" textLength="25" lengthAdjust="spacingAndGlyphs">SELL</text>
<text x="183.6" y="65.8" font-size="11.3" font-weight="normal" fill="#fff" text-anchor="start" font-family="'Liberation Sans', sans-serif" textLength="22.7" lengthAdjust="spacingAndGlyphs">BUY</text>
<text x="142.6" y="64.7" font-size="11.4" fill="#000" text-anchor="end" font-family="'Liberation Sans', sans-serif">1.00</text>
<text x="23" y="104.8" font-size="11.6" font-weight="bold" fill="#fff" text-anchor="start" font-family="'Liberation Sans', sans-serif" textLength="23" lengthAdjust="spacingAndGlyphs">6.92</text>
<text x="50.4" y="105.3" font-size="36" font-weight="normal" fill="#fff" text-anchor="start" font-family="'Liberation Sans', sans-serif" textLength="36" lengthAdjust="spacingAndGlyphs" stroke="#c91c1c" stroke-width="0.9">96</text>
<text x="90.4" y="89" font-size="10.6" font-weight="bold" fill="#fff" text-anchor="start" font-family="'Liberation Sans', sans-serif" >3</text>
<text x="132.9" y="104.8" font-size="11.6" font-weight="bold" fill="#fff" text-anchor="start" font-family="'Liberation Sans', sans-serif" textLength="23" lengthAdjust="spacingAndGlyphs">6.93</text>
<text x="161.2" y="105.3" font-size="36" font-weight="normal" fill="#fff" text-anchor="start" font-family="'Liberation Sans', sans-serif" textLength="35.6" lengthAdjust="spacingAndGlyphs" stroke="#c91c1c" stroke-width="0.9">20</text>
<text x="201.2" y="89" font-size="10.6" font-weight="bold" fill="#fff" text-anchor="start" font-family="'Liberation Sans', sans-serif" >0</text>
</svg>
</body></html>
